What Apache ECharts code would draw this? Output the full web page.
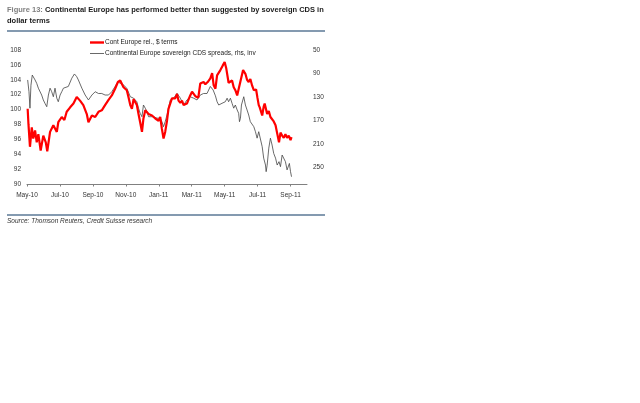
<!DOCTYPE html>
<html>
<head>
<meta charset="utf-8">
<script src="https://cdn.jsdelivr.net/npm/echarts@6/dist/echarts.min.js"></script>
<style>
html,body{margin:0;padding:0;background:#fff;}
#c{width:640px;height:403px;}
</style>
</head>
<body>
<div id="c"></div>
<script>
// x positions are month indices: 0 = May-10, 2 = Jul-10, ... 16 = Sep-11
var monthLabels = ['May-10','Jul-10','Sep-10','Nov-10','Jan-11','Mar-11','May-11','Jul-11','Sep-11'];
var leftTicks = [90,92,94,96,98,100,102,104,106,108];
var rightTicks = [50,90,130,170,210,250];

var redT = [0.04,0.09,0.18,0.29,0.38,0.49,0.59,0.69,0.83,0.99,1.14,1.23,1.40,1.60,1.81,1.90,2.11,2.27,2.41,2.62,2.82,3.02,3.22,3.42,3.63,3.73,3.94,4.14,4.34,4.54,4.74,4.95,5.15,5.35,5.52,5.66,5.86,6.06,6.16,6.27,6.37,6.47,6.57,6.67,6.77,6.87,6.98,7.07,7.18,7.38,7.59,7.79,7.99,8.09,8.19,8.29,8.39,8.50,8.59,8.80,9.00,9.11,9.20,9.31,9.41,9.51,9.61,9.71,9.91,10.02,10.22,10.40,10.52,10.72,10.83,10.97,11.13,11.24,11.33,11.44,11.54,11.64,11.74,11.88,12.00,12.10,12.24,12.35,12.45,12.55,12.65,12.76,12.85,12.96,13.12,13.26,13.36,13.46,13.56,13.67,13.77,13.91,13.99,14.07,14.13,14.28,14.37,14.43,14.58,14.68,14.78,14.88,14.98,15.09,15.19,15.30,15.39,15.49,15.59,15.69,15.79,15.89,16.00,16.06];
var redV = [100.1,98.0,95.0,97.6,96.1,97.2,95.6,96.7,94.5,96.5,95.6,94.4,97.0,97.9,97.0,98.3,99.0,98.6,99.7,100.3,100.8,101.7,101.2,100.6,99.4,98.3,99.2,99.0,99.7,99.9,100.6,101.3,101.9,102.8,103.7,103.9,103.0,102.6,101.7,100.6,100.1,101.4,101.5,100.6,99.4,98.3,97.0,98.8,99.9,99.4,99.2,98.8,98.5,99.0,97.4,96.1,97.0,98.5,100.1,101.5,101.5,102.1,101.2,100.9,101.2,100.6,100.4,100.8,101.9,102.4,101.8,101.6,103.5,103.7,103.4,103.7,104.2,104.9,103.3,102.8,104.6,104.4,105.3,105.9,106.4,105.5,103.6,103.5,103.9,103.0,102.6,101.9,102.0,103.8,105.3,104.8,104.0,103.7,104.1,103.2,102.6,102.7,101.6,100.6,100.3,99.2,100.4,100.8,99.4,99.8,99.0,98.8,98.4,97.9,96.8,95.6,96.9,96.5,96.2,96.7,96.2,96.5,95.9,96.3];

var cdsT = [0.04,0.12,0.18,0.24,0.32,0.38,0.49,0.59,0.69,0.79,0.89,0.99,1.09,1.20,1.30,1.40,1.50,1.60,1.70,1.81,1.90,2.01,2.11,2.21,2.31,2.51,2.72,2.88,3.02,3.12,3.33,3.53,3.73,3.83,3.94,4.14,4.34,4.54,4.74,4.95,5.15,5.35,5.52,5.66,5.86,6.06,6.27,6.47,6.57,6.67,6.77,6.87,6.98,7.07,7.18,7.28,7.38,7.48,7.68,7.89,8.09,8.19,8.29,8.39,8.50,8.70,8.90,9.11,9.31,9.51,9.71,9.91,10.12,10.32,10.52,10.72,10.93,11.13,11.30,11.44,11.54,11.64,11.84,11.94,12.04,12.15,12.24,12.35,12.45,12.55,12.65,12.76,12.85,12.90,12.96,13.02,13.16,13.26,13.36,13.46,13.56,13.67,13.77,13.87,13.97,14.07,14.17,14.28,14.37,14.48,14.52,14.58,14.68,14.78,14.88,14.98,15.09,15.19,15.30,15.39,15.49,15.59,15.69,15.79,15.89,15.93,16.00,16.06];
var cdsV = [101,121,149,110,92.6,89.7,101,106.7,115,112,126.6,135,140.7,146.5,126.6,115,121,129.5,115,132,138,126.6,121,115,115,112,98,90.8,95.4,101,115,126.6,135,138,126.6,121,124,124,126.6,126.6,121,112,104,106.7,109.6,115,129.5,132,129.5,138,149,157.7,163.5,143.6,149,155,163.5,166,163.5,166,166,172,180.5,172,160.6,135,132,123.7,132,143.6,135,129.5,132,135,126.6,124,124,112,118,128,138,143.6,140.7,143.6,138,132,138,132,140.7,149,143.6,152,157.7,172,166,143.6,129.5,143.6,152,160.6,172,169,180.5,189,200,189,192,214.6,234,245.7,257,246,217,200,211.7,226,234,245.7,240,248.5,228.7,226,240,254,257,243,257,265.6];

function pairs(t, v) { return t.map(function (x, i) { return [x, v[i]]; }); }

var FONT = '"Liberation Sans Narrow", "Liberation Sans", Arial, sans-serif';
var chart = echarts.init(document.getElementById('c'), null, {renderer: 'canvas'});
chart.setOption({
  animation: false,
  backgroundColor: '#ffffff',
  title: {
    left: 7, top: 4, padding: 0,
    text: '{g|Figure 13: }{b|Continental Europe has performed better than suggested by sovereign CDS in}\n{b|dollar terms}',
    textStyle: {
      rich: {
        g: {fontFamily: '"Liberation Sans", Arial, sans-serif', fontSize: 7.5, color: '#7f7f7f', lineHeight: 11},
        b: {fontFamily: '"Liberation Sans", Arial, sans-serif', fontSize: 7.5, fontWeight: 'bold', color: '#1a1a1a', lineHeight: 11}
      }
    }
  },
  legend: {
    orient: 'vertical', left: 90, top: 39, padding: 0, itemWidth: 14, itemHeight: 6, itemGap: 4,
    textStyle: {fontFamily: FONT, fontSize: 6.5, color: '#222', padding: [0, 0, 0, -4]},
    data: [
      {name: 'Cont Europe rel., $ terms', icon: 'path://M0,0 L14,0 L14,2.4 L0,2.4 Z', itemStyle: {color: '#ff0000'}},
      {name: 'Continental Europe sovereign CDS spreads, rhs, inv', icon: 'path://M0,0 L14,0 L14,0.8 L0,0.8 Z', itemStyle: {color: '#444'}}
    ]
  },
  grid: {left: 27, right: 333, top: 50, bottom: 219, containLabel: false},
  xAxis: {
    type: 'value', min: 0, max: 17, interval: 2,
    axisLine: {show: true, lineStyle: {color: '#808080', width: 1}},
    axisTick: {show: true, length: 2.5, lineStyle: {color: '#808080'}, customValues: [0,2,4,6,8,10,12,14,16]},
    axisLabel: {
      fontFamily: FONT, fontSize: 6.5, color: '#333', margin: 8,
      customValues: [0,2,4,6,8,10,12,14,16],
      formatter: function (v) { var i = Math.round(v / 2); return (v % 2 === 0 && monthLabels[i]) ? monthLabels[i] : ''; }
    },
    splitLine: {show: false}
  },
  yAxis: [
    {
      type: 'value', min: 90, max: 108, interval: 2, position: 'left',
      axisLine: {show: false}, axisTick: {show: false}, splitLine: {show: false},
      axisLabel: {fontFamily: FONT, fontSize: 6.5, color: '#333', margin: 6,
        formatter: function (v) { return leftTicks.indexOf(v) >= 0 ? String(v) : ''; }}
    },
    {
      type: 'value', min: 50, max: 278, interval: 40, inverse: true, position: 'right',
      axisLine: {show: false}, axisTick: {show: false}, splitLine: {show: false},
      axisLabel: {fontFamily: FONT, fontSize: 6.5, color: '#333', margin: 6,
        customValues: rightTicks,
        formatter: function (v) { return rightTicks.indexOf(v) >= 0 ? String(v) : ''; }}
    }
  ],
  series: [
    {
      name: 'Continental Europe sovereign CDS spreads, rhs, inv', type: 'line', yAxisIndex: 1,
      data: pairs(cdsT, cdsV), showSymbol: false, symbol: 'none',
      lineStyle: {color: '#444', width: 0.8}, z: 2
    },
    {
      name: 'Cont Europe rel., $ terms', type: 'line', yAxisIndex: 0,
      data: pairs(redT, redV), showSymbol: false, symbol: 'none',
      lineStyle: {color: '#ff0000', width: 2.2}, z: 3
    }
  ],
  graphic: [
    {type: 'line', shape: {x1: 7, y1: 31, x2: 325, y2: 31}, style: {stroke: '#5b7896', lineWidth: 1.6}},
    {type: 'line', shape: {x1: 7, y1: 215, x2: 325, y2: 215}, style: {stroke: '#5b7896', lineWidth: 1.6}},
    {type: 'text', left: 7, top: 218, style: {text: 'Source: Thomson Reuters, Credit Suisse research', fontFamily: '"Liberation Sans", Arial, sans-serif', fontSize: 6.5, fontStyle: 'italic', fill: '#333'}}
  ]
});
</script>
</body>
</html>
